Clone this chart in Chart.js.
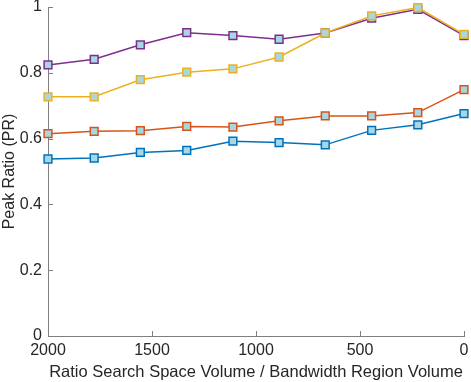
<!DOCTYPE html>
<html>
<head>
<meta charset="utf-8">
<script src="https://cdn.jsdelivr.net/npm/chart.js@4"></script>
<style>
	html, body { margin: 0; padding: 0; background: #fff; }
	#wrap { width: 471px; height: 382px; }
</style>
</head>
<body>
<div id="wrap"><canvas id="peak-ratio-chart" width="471" height="382"></canvas></div>
<script>
const ratioValues = [2000, 1778, 1556, 1333, 1111, 889, 667, 444, 222, 0];
const bluePeak = [0.538, 0.541, 0.558, 0.564, 0.592, 0.588, 0.581, 0.625, 0.642, 0.676];
const orangePeak = [0.615, 0.622, 0.624, 0.637, 0.635, 0.654, 0.669, 0.669, 0.679, 0.749];
const yellowPeak = [0.727, 0.727, 0.779, 0.802, 0.812, 0.848, 0.921, 0.973, 0.998, 0.917];
const purplePeak = [0.824, 0.841, 0.885, 0.922, 0.913, 0.902, 0.921, 0.966, 0.993, 0.913];

const xTicks = [0, 500, 1000, 1500, 2000];
const yTicks = [0, 0.2, 0.4, 0.6, 0.8, 1];

const fgColor = '#262626';
const axisColor = '#808080';
const markerFill = '#a6d8e3';
const fontFamily = '"Liberation Sans", Arial, Helvetica, sans-serif';

function makeSeries(values, color) {
	return {
		data: ratioValues.map((x, i) => ({ x: x, y: values[i] })),
		borderColor: color,
		backgroundColor: markerFill,
		pointBorderColor: color,
		pointBackgroundColor: markerFill,
		pointStyle: 'rect',
		pointRadius: 5.5,
		pointBorderWidth: 1.5,
		borderWidth: 1.5,
		tension: 0,
		clip: false
	};
}

// MATLAB style ticks pointing into the plot
const innerTicks = {
	id: 'innerTicks',
	afterDatasetsDraw: (chart) => {
		const { ctx, chartArea: { top, bottom, left, right }, scales: { x, y } } = chart;
		const len = 5;
		ctx.save();
		ctx.strokeStyle = axisColor;
		ctx.lineWidth = 1;
		ctx.beginPath();
		xTicks.forEach(v => {
			const px = Math.round(x.getPixelForValue(v)) + 0.5;
			ctx.moveTo(px, bottom);
			ctx.lineTo(px, bottom - len);
		});
		yTicks.forEach(v => {
			const py = Math.round(y.getPixelForValue(v)) + 0.5;
			ctx.moveTo(left, py);
			ctx.lineTo(left + len, py);
		});
		ctx.stroke();
		ctx.restore();
	}
};

new Chart(document.getElementById('peak-ratio-chart'), {
	type: 'line',
	data: {
		datasets: [
			makeSeries(bluePeak, '#0072bd'),
			makeSeries(orangePeak, '#d95319'),
			makeSeries(yellowPeak, '#edb120'),
			makeSeries(purplePeak, '#7e2f8e')
		]
	},
	options: {
		responsive: false,
		animation: false,
		layout: { padding: { top: 6, right: 5, left: 0, bottom: 0 } },
		plugins: {
			legend: { display: false },
			tooltip: { enabled: false }
		},
		scales: {
			x: {
				type: 'linear',
				reverse: true,
				min: 0,
				max: 2000,
				afterBuildTicks: (scale) => { scale.ticks = xTicks.map(v => ({ value: v })); },
				afterFit: (scale) => {
					scale.height = 46;
					scale.paddingLeft = 0;
					scale.paddingRight = 0;
				},
				grid: { display: false, drawTicks: false },
				border: { display: true, color: axisColor, width: 1 },
				ticks: {
					color: fgColor,
					font: { family: fontFamily, size: 16 },
					padding: 5,
					maxRotation: 0,
					callback: (v) => String(v)
				},
				title: {
					display: true,
					text: 'Ratio Search Space Volume / Bandwidth Region Volume',
					color: fgColor,
					font: { family: fontFamily, size: 16.5 },
					padding: { top: 0, bottom: 0 }
				}
			},
			y: {
				min: 0,
				max: 1,
				afterBuildTicks: (scale) => { scale.ticks = yTicks.map(v => ({ value: v })); },
				afterFit: (scale) => {
					scale.width = 48;
					scale.paddingTop = 0;
					scale.paddingBottom = 0;
				},
				grid: { display: false, drawTicks: false },
				border: { display: true, color: axisColor, width: 1 },
				ticks: {
					color: fgColor,
					font: { family: fontFamily, size: 16 },
					padding: 6,
					callback: (v) => String(Math.round(v * 10) / 10)
				},
				title: {
					display: true,
					text: 'Peak Ratio (PR)',
					color: fgColor,
					font: { family: fontFamily, size: 16 },
					padding: { top: 0, bottom: 2 }
				}
			}
		}
	},
	plugins: [innerTicks]
});
</script>
</body>
</html>
